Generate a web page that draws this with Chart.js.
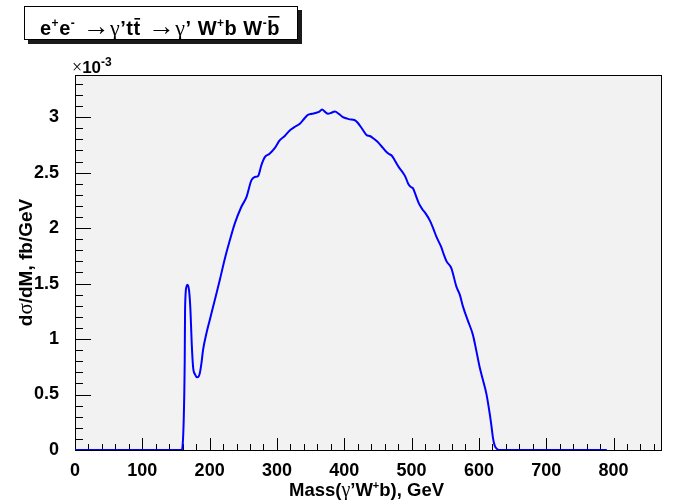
<!DOCTYPE html>
<html>
<head>
<meta charset="utf-8">
<script src="https://cdn.jsdelivr.net/npm/chart.js@4/dist/chart.umd.min.js"></script>
<style>
  body { margin: 0; background: #fff; }
  #wrap { width: 678px; height: 500px; }
</style>
</head>
<body>
<div id="wrap"><canvas id="massChart" width="678" height="500"></canvas></div>
<script>
// --- mass spectrum of gamma' W+ b, values in units of 1e-3 fb/GeV ---

const massGeV = [
  0, 50, 100, 150, 158.5, 161.5, 163, 163.5, 165.5, 167,
  169.4, 171.5, 173.4, 175.4, 178.4, 181.9, 185.3, 187.8, 190.2, 195.2,
  200.1, 207.6, 215, 222.4, 230, 237.3, 247, 254.7, 262, 267,
  272, 277, 282, 289, 296.7, 304, 311.6, 319, 326, 334,
  341, 346, 352, 358.7, 363, 367, 371, 376, 381, 386,
  392, 398, 403, 408, 415, 420, 426, 433, 438, 443,
  449, 455, 462, 466, 471, 476, 481, 487, 491, 495,
  499, 502, 506, 511, 516, 521, 527, 532, 537, 544,
  548, 552, 559, 566.7, 571.6, 576.5, 584, 591, 596, 601,
  606, 611, 616, 619, 621, 623.5, 626, 630, 700, 790
];
const dsigma = [
  0, 0, 0, 0, 0, 0.27, 0.81, 1.26, 1.47, 1.49,
  1.44, 1.26, 0.96, 0.75, 0.68, 0.655, 0.69, 0.78, 0.90, 1.05,
  1.17, 1.35, 1.53, 1.72, 1.89, 2.04, 2.19, 2.28, 2.43, 2.46,
  2.47, 2.57, 2.64, 2.67, 2.72, 2.79, 2.83, 2.88, 2.91, 2.94,
  2.99, 3.02, 3.03, 3.04, 3.05, 3.07, 3.05, 3.03, 3.04, 3.05,
  3.03, 3.00, 2.99, 2.98, 2.975, 2.95, 2.90, 2.84, 2.83, 2.81,
  2.78, 2.74, 2.69, 2.67, 2.65, 2.60, 2.55, 2.50, 2.46, 2.40,
  2.37, 2.36, 2.30, 2.22, 2.17, 2.13, 2.07, 2.00, 1.92, 1.83,
  1.76, 1.70, 1.64, 1.47, 1.40, 1.29, 1.16, 1.04, 0.90, 0.75,
  0.63, 0.51, 0.33, 0.20, 0.105, 0.04, 0.015, 0, 0, 0
];

const xMajor = [0, 100, 200, 300, 400, 500, 600, 700, 800];
const yMajor = [0, 0.5, 1, 1.5, 2, 2.5, 3];
const X_MAX = 872;
const Y_MAX = 3.38;

const BOLD = (s) => `bold ${s}px "Liberation Sans", Arial, sans-serif`;
const SYM = (s) => `${s}px "Liberation Serif", "DejaVu Serif", serif`;

// draws a row of mixed-font pieces (ROOT style latex)
function rich(ctx, parts, x, y, align) {
  let w = 0;
  parts.forEach(p => { ctx.font = p.f; p.w = ctx.measureText(p.t).width; w += p.w; });
  let cx = align === 'center' ? x - w / 2 : x;
  parts.forEach(p => {
    ctx.font = p.f;
    ctx.fillText(p.t, cx, y + (p.dy || 0));
    if (p.bar) ctx.fillRect(cx + 1, y - p.bar, p.w - 1.5, 1.6);
    cx += p.w;
  });
}

const rootFrame = {
  id: 'rootFrame',
  beforeDraw(chart) {
    const { ctx, chartArea: a } = chart;
    ctx.save();
    ctx.fillStyle = '#fff';
    ctx.fillRect(0, 0, chart.width, chart.height);
    ctx.fillStyle = '#f2f2f2';
    ctx.fillRect(a.left, a.top, a.right - a.left, a.bottom - a.top);
    ctx.restore();
  },
  beforeDatasetsDraw(chart) {
    const { ctx, chartArea: a, scales: { x, y } } = chart;
    ctx.save();
    ctx.strokeStyle = '#000';
    ctx.lineWidth = 1;
    ctx.strokeRect(a.left + 0.5, a.top + 0.5, a.right - a.left - 1, a.bottom - a.top);
    ctx.beginPath();
    for (let v = 0; v <= X_MAX; v += 20) {
      const px = Math.round(x.getPixelForValue(v)) + 0.5;
      const len = v % 100 === 0 ? 12 : 6;
      ctx.moveTo(px, a.bottom);
      ctx.lineTo(px, a.bottom - len);
    }
    for (let i = 0; i <= 33; i++) {
      const v = i / 10;
      const py = Math.round(y.getPixelForValue(v)) + 0.5;
      const len = i % 5 === 0 ? 16 : 8;
      ctx.moveTo(a.left, py);
      ctx.lineTo(a.left + len, py);
    }
    ctx.stroke();
    ctx.restore();
  },
  afterDraw(chart) {
    const { ctx, chartArea: a } = chart;
    ctx.save();
    ctx.fillStyle = '#000';
    ctx.textBaseline = 'alphabetic';

    // title box with shadow
    ctx.fillStyle = '#1a1a1a';
    ctx.fillRect(28, 10, 274, 34);
    ctx.fillStyle = '#fff';
    ctx.fillRect(24, 6, 274, 34);
    ctx.strokeStyle = '#000';
    ctx.strokeRect(24.5, 6.5, 273, 33);
    ctx.fillStyle = '#000';
    ctx.letterSpacing = '0.5px';
    const B = BOLD(20), S = BOLD(12), A = SYM(27), G = SYM(22);
    rich(ctx, [
      { t: 'e', f: B }, { t: '+', f: S, dy: -8 }, { t: 'e', f: B }, { t: '-', f: S, dy: -8 },
      { t: ' \u2192', f: A }, { t: '\u03b3', f: G }, { t: '\u2019t', f: B }, { t: 't', f: B, bar: 17 },
      { t: ' \u2192', f: A }, { t: '\u03b3', f: G }, { t: '\u2019 W', f: B }, { t: '+', f: S, dy: -8 },
      { t: 'b W', f: B }, { t: '-', f: S, dy: -8 }, { t: 'b', f: B, bar: 19 }
    ], 40, 35, 'left');
    ctx.letterSpacing = '0px';

    // exponent
    rich(ctx, [
      { t: '\u00d7', f: SYM(18) }, { t: '10', f: BOLD(17) }, { t: '-3', f: BOLD(12), dy: -7 }
    ], 72, 73, 'left');

    // x title
    rich(ctx, [
      { t: 'Mass(', f: BOLD(18.5) }, { t: '\u03b3', f: SYM(20) }, { t: '\u2019W', f: BOLD(18.5) },
      { t: '+', f: BOLD(11), dy: -7 }, { t: 'b), GeV', f: BOLD(18.5) }
    ], (a.left + a.right) / 2 - 2, 496, 'center');

    // y title
    ctx.translate(32, (a.top + a.bottom) / 2);
    ctx.rotate(-Math.PI / 2);
    rich(ctx, [
      { t: 'd', f: BOLD(19) }, { t: '\u03c3', f: SYM(21) }, { t: '/dM, fb/GeV', f: BOLD(19) }
    ], 0, 0, 'center');
    ctx.restore();
  }
};

function initChart() {
  const ctx = document.getElementById('massChart').getContext('2d');
  new Chart(ctx, {
    type: 'line',
    data: {
      datasets: [{
        label: 'dsigma/dM',
        data: massGeV.map((m, i) => ({ x: m, y: dsigma[i] })),
        borderColor: '#0000ff',
        borderWidth: 2,
        pointRadius: 0,
        fill: false,
        cubicInterpolationMode: 'monotone'
      }]
    },
    options: {
      responsive: false,
      animation: false,
      layout: { padding: { left: 0, top: 75, right: 16, bottom: 0 } },
      plugins: { legend: { display: false }, tooltip: { enabled: false } },
      scales: {
        x: {
          type: 'linear',
          min: 0,
          max: X_MAX,
          grid: { display: false },
          border: { display: false },
          afterFit: (s) => { s.height = 50; },
          afterBuildTicks: (s) => { s.ticks = xMajor.map(v => ({ value: v })); },
          ticks: {
            autoSkip: false, maxRotation: 0, padding: 2,
            callback: (v) => String(v),
            color: '#000', font: { family: '"Liberation Sans", Arial, sans-serif', size: 18, weight: 'bold' }
          }
        },
        y: {
          min: 0,
          max: Y_MAX,
          grid: { display: false },
          border: { display: false },
          afterFit: (s) => { s.width = 75; },
          afterBuildTicks: (s) => { s.ticks = yMajor.map(v => ({ value: v })); },
          ticks: {
            autoSkip: false, padding: 8,
            callback: (v) => String(v),
            color: '#000', font: { family: '"Liberation Sans", Arial, sans-serif', size: 18, weight: 'bold' }
          }
        }
      }
    },
    plugins: [rootFrame]
  });
}

document.addEventListener('DOMContentLoaded', initChart);
</script>
</body>
</html>
